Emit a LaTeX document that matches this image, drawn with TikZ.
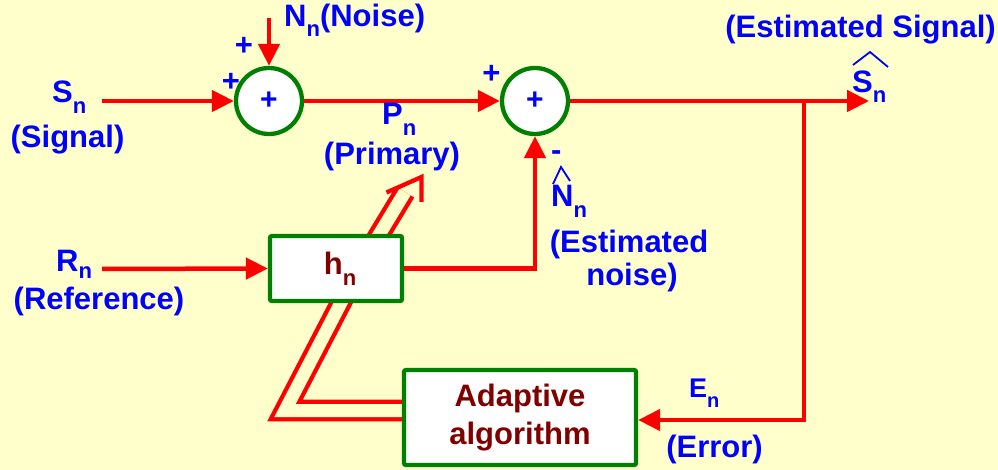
\documentclass[tikz,border=0pt]{standalone}
\usepackage{fontspec}
\setmainfont{Liberation Sans}
\usetikzlibrary{arrows.meta}
\definecolor{bgy}{RGB}{255,255,204}
\definecolor{lblue}{RGB}{0,0,255}
\definecolor{lred}{RGB}{255,0,0}
\definecolor{lgreen}{RGB}{0,128,0}
\definecolor{dred}{RGB}{128,0,0}
\newcommand\mysub[2][11pt]{\raisebox{-#1}{\fontsize{22}{22}\selectfont #2}}
\pgfdeclarelayer{bglayer}
\pgfdeclarelayer{midlayer}
\pgfsetlayers{bglayer,midlayer,main}
\begin{document}
\begin{tikzpicture}[x=1pt,y=-1pt,
  lbl/.style={text=lblue, font=\bfseries\fontsize{31}{34}\selectfont, inner sep=0pt},
  sig/.style={draw=lred, line width=4.5pt},
  arr/.style={sig, -{Triangle[length=22pt,width=21pt]}},
  sumnode/.style={circle, draw=lgreen, line width=4.3pt, fill=white, minimum size=66pt, inner sep=0pt, text=lblue, font=\bfseries\fontsize{30}{32}\selectfont},
  blk/.style={draw=lgreen, line width=4.3pt, fill=white, rounded corners=2pt, text=dred, font=\bfseries\fontsize{31}{38}\selectfont, align=center, inner sep=0pt},
  hatline/.style={draw=lblue, line width=1.8pt},
  adaptline/.style={draw=lred, line width=4.3pt}
]
\begin{pgfonlayer}{bglayer}
\fill[bgy] (0,0) rectangle (998,470);
\end{pgfonlayer}
\useasboundingbox (0,0) rectangle (998,470);

% blocks
\node[sumnode] (s1) at (269,101) {+};
\node[sumnode] (s2) at (535,101) {+};
\node[blk, minimum width=232pt, minimum height=95pt] (ad) at (520,417.5) {Adaptive\\algorithm};
\node[blk, minimum width=132pt, minimum height=65pt] (h) at (336,268.5) {\hspace*{8pt}h\mysub{n}};

% free ends
\coordinate (sin) at (102,101);
\coordinate (nin) at (269,18);
\coordinate (rin) at (102,269);
\coordinate (sout) at (869,101);
\coordinate (br) at (804,101);
\coordinate (errc) at (804,420);
\coordinate (dy) at (0,410.5);
\coordinate (bend1) at (285,410.5);
\coordinate (bend2) at (359,268);
\coordinate (adend) at (405,192);
\coordinate (adtip) at (421.5,177);
\coordinate (arml) at (386.5,192.5);
\coordinate (armr) at (421.5,202);

% connectors
\draw[arr] (sin) -- (s1.west);
\draw[arr] (nin) -- (s1.north);
\draw[arr] (s1.east) -- (s2.west);
\draw[arr] (s2.east) -- (sout);
\draw[arr] (br) -- (errc) -- (ad.east |- errc);
\draw[arr] (rin) -- (h.west);
\draw[arr] (h.east) -| (s2.south);

% adaptation (double) arrow
\begin{pgfonlayer}{midlayer}
\draw[lred, line width=4.3pt, double=bgy, double distance=13pt, line join=miter]
  (ad.west |- dy) -- (bend1) -- (bend2) -- (adend);
\end{pgfonlayer}
\draw[adaptline, line join=miter] (arml) -- (adtip) -- (armr);

% labels
\node[lbl, anchor=base west] (sn) at (52,103) {S\mysub{n}};
\node[lbl, anchor=base] (sg) at (67.5,148) {(Signal)};
\node[lbl, anchor=base west] (nn) at (284,27) {N\mysub[10pt]{n}(Noise)};
\node[lbl, anchor=base] (p1) at (244,56) {+};
\node[lbl, anchor=base] (p2) at (231,92) {+};
\node[lbl, anchor=base] (p3) at (491.5,83.5) {+};
\node[lbl, anchor=base west] (mn) at (551,161) {-};
\node[lbl, anchor=base west] (pn) at (382,125) {P\mysub{n}};
\node[lbl, anchor=base] (pr) at (392,165) {(Primary)};
\node[lbl, anchor=base west] (nh) at (551,207) {N\mysub{n}};
\draw[hatline] (553,184) -- (561,167) -- (570,181);
\node[lbl, anchor=base] (e1) at (629,253) {(Estimated};
\node[lbl, anchor=base] (e2) at (632,285) {noise)};
\node[lbl, anchor=base] (es) at (860.5,38) {(Estimated Signal)};
\node[lbl, anchor=base west] (shat) at (852,93) {S\mysub[10pt]{n}};
\draw[hatline] (853,65) -- (870,52) -- (888,67);
\node[lbl, anchor=base west, font=\bfseries\fontsize{27}{28}\selectfont] (en) at (689,397) {E\raisebox{-10pt}{\fontsize{20}{20}\selectfont n}};
\node[lbl, anchor=base] (er) at (714.5,457) {(Error)};
\node[lbl, anchor=base west] (rn) at (56,272) {R\mysub[7pt]{n}};
\node[lbl, anchor=base] (rf) at (99,309) {(Reference)};
\end{tikzpicture}
\end{document}
